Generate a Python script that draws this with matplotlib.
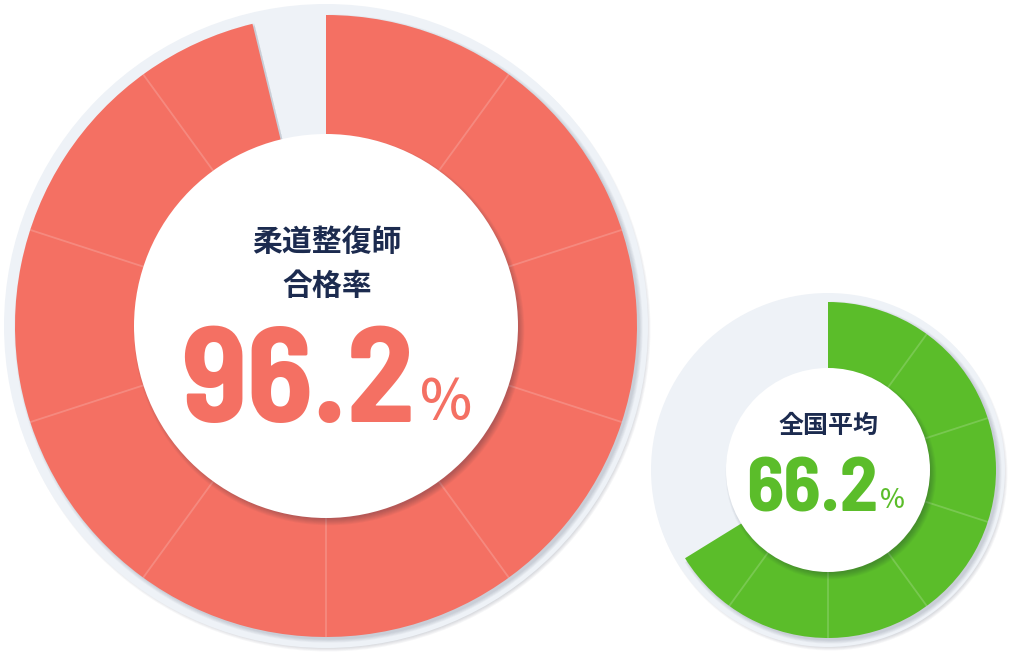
import numpy as np
import matplotlib
matplotlib.use("Agg")
import matplotlib.pyplot as plt
from matplotlib.patches import Circle

# values shown on the two gauges (percent)
labels_big = ["柔道整復師", "合格率"]
value_big = 96.2
labels_small = ["全国平均"]
value_small = 66.2
n_segments = 10

W, H = 1014, 658
RED = "#f47063"
GREEN = "#5bbd2a"
TRACK = "#eef2f7"
NAVY = "#1c2b4f"

fig = plt.figure(figsize=(W / 100, H / 100), dpi=100)
ax = fig.add_axes([0, 0, 1, 1])


def soft_shadow(center, radius, dx, dy, steps=6, alpha=0.035, z=0):
    # stacked translucent circles make a blurred drop shadow
    for i in range(steps):
        ax.add_patch(Circle((center[0] + dx, center[1] - dy), radius + i * 0.9,
                            facecolor="#1a2440", edgecolor="none", alpha=alpha, zorder=z))


def gauge(cx, cy, r_track, r_ring, r_hole, value, color, zbase):
    c = (cx, H - cy)
    # outer light track
    soft_shadow(c, r_track - 4, 2, 3, z=zbase)
    ax.add_patch(Circle(c, r_track, facecolor=TRACK, edgecolor="none", zorder=zbase + 1))
    # shadow of the filled ring
    for i in range(5):
        ax.pie([value, 100 - value], colors=["#1a2440", "none"], startangle=90,
               counterclock=False, radius=r_ring + i * 0.8, center=(c[0] + 2.5, c[1] - 2.5),
               wedgeprops=dict(linewidth=0, alpha=0.035, zorder=zbase + 2), frame=True)
    # filled ring
    ax.pie([value, 100 - value], colors=[color, "none"], startangle=90,
           counterclock=False, radius=r_ring, center=c,
           wedgeprops=dict(width=r_ring - r_hole + 5, linewidth=0, zorder=zbase + 3), frame=True)
    # thin dividers every 36 degrees, only inside the filled part
    for k in range(1, n_segments):
        ang = k * 360 / n_segments
        if ang >= value * 3.6:
            break
        t = np.deg2rad(90 - ang)
        ax.plot([c[0] + r_hole * np.cos(t), c[0] + r_ring * np.cos(t)],
                [c[1] + r_hole * np.sin(t), c[1] + r_ring * np.sin(t)],
                color="white", alpha=0.18, lw=1.3, zorder=zbase + 4, solid_capstyle="butt")
    # white centre
    soft_shadow(c, r_hole - 3, 3, 4, steps=8, alpha=0.04, z=zbase + 5)
    ax.add_patch(Circle(c, r_hole, facecolor="white", edgecolor="none", zorder=zbase + 6))


gauge(326, 326, 322, 311, 192, value_big, RED, 0)
gauge(828, 470, 177, 168, 102, value_small, GREEN, 10)

jp = ["Noto Sans CJK JP", "DejaVu Sans"]
num = ["Barlow Semi Condensed", "Roboto Condensed", "DejaVu Sans"]

# big gauge text
ax.text(327, H - 242, labels_big[0], ha="center", va="center", fontsize=21.5,
        fontweight="bold", color=NAVY, family=jp, zorder=30)
ax.text(327, H - 286, labels_big[1], ha="center", va="center", fontsize=21.5,
        fontweight="bold", color=NAVY, family=jp, zorder=30)
ax.text(415, H - 422, f"{value_big:.1f}", ha="right", va="baseline", fontsize=98,
        fontweight="bold", color=RED, family=num, zorder=30)
ax.text(420, H - 419, "%", ha="left", va="baseline", fontsize=40,
        fontweight="medium", color=RED, family=jp, zorder=30)

# small gauge text
ax.text(829, H - 426, labels_small[0], ha="center", va="center", fontsize=18,
        fontweight="bold", color=NAVY, family=jp, zorder=30)
ax.text(878, H - 512, f"{value_small:.1f}", ha="right", va="baseline", fontsize=55,
        fontweight="bold", color=GREEN, family=num, zorder=30)
ax.text(880, H - 508, "%", ha="left", va="baseline", fontsize=19,
        fontweight="medium", color=GREEN, family=jp, zorder=30)

ax.set_xlim(0, W)
ax.set_ylim(0, H)
ax.set_aspect("equal")
ax.axis("off")

fig.savefig("out.png", dpi=100, facecolor="white")
